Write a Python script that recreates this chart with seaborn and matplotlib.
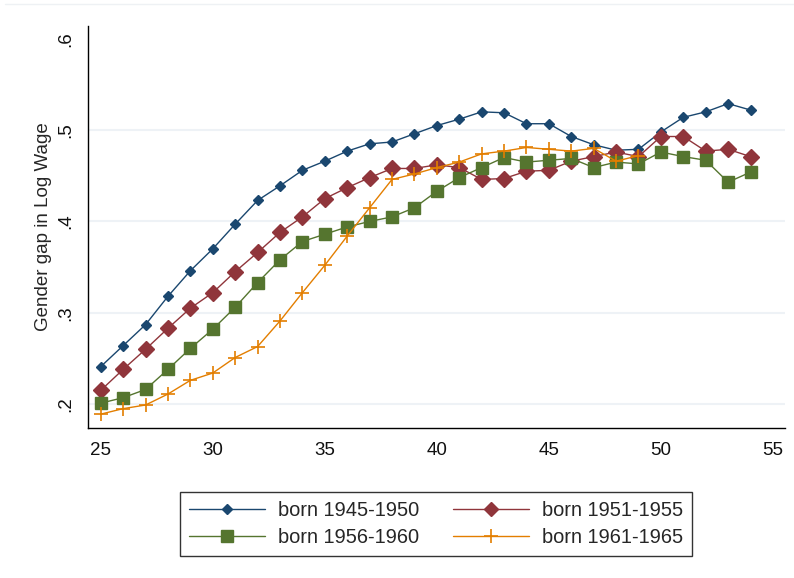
import matplotlib
matplotlib.use('Agg')
import matplotlib.pyplot as plt
from matplotlib.lines import Line2D
import seaborn as sns
import pandas as pd
import numpy as np

# Data
age = list(range(25, 55))
born_1945_1950 = [0.241, 0.264, 0.287, 0.318, 0.346, 0.370, 0.397, 0.423, 0.439, 0.456,
                  0.466, 0.477, 0.485, 0.487, 0.496, 0.505, 0.512, 0.520, 0.519, 0.507,
                  0.507, 0.493, 0.484, 0.478, 0.479, 0.498, 0.514, 0.520, 0.529, 0.522]
born_1951_1955 = [0.215, 0.238, 0.260, 0.283, 0.305, 0.322, 0.345, 0.366, 0.388, 0.405,
                  0.425, 0.437, 0.448, 0.458, 0.458, 0.462, 0.459, 0.446, 0.447, 0.455,
                  0.456, 0.466, 0.471, 0.476, 0.471, 0.493, 0.493, 0.477, 0.479, 0.471]
born_1956_1960 = [0.201, 0.207, 0.216, 0.238, 0.261, 0.282, 0.306, 0.333, 0.358, 0.378,
                  0.386, 0.394, 0.400, 0.405, 0.415, 0.433, 0.448, 0.459, 0.470, 0.465,
                  0.467, 0.469, 0.459, 0.465, 0.463, 0.476, 0.471, 0.467, 0.443, 0.454]
age_1961_1965 = list(range(25, 50))
born_1961_1965 = [0.189, 0.195, 0.199, 0.211, 0.226, 0.234, 0.251, 0.263, 0.291, 0.322,
                  0.352, 0.384, 0.415, 0.446, 0.452, 0.459, 0.465, 0.474, 0.477, 0.481,
                  0.479, 0.477, 0.480, 0.466, 0.472]

labels = ['born 1945-1950', 'born 1951-1955', 'born 1956-1960', 'born 1961-1965']
colors = ['#1a476f', '#90353b', '#55752f', '#e37e00']

sns.set_style('white')
plt.rcParams['font.family'] = ['Liberation Sans', 'DejaVu Sans']

fig = plt.figure(figsize=(7.94, 5.78), dpi=100)
ax = fig.add_axes([0.1108, 0.2595, 0.8779, 0.6955])

series = [
    (age, born_1945_1950, 'D', 5.5, 1.0),
    (age, born_1951_1955, 'D', 8, 1.0),
    (age, born_1956_1960, 's', 8.5, 1.0),
    (age_1961_1965, born_1961_1965, '+', 10, 1.2),
]
handles = []
for (x, y, mk, ms, mew), lab, col in zip(series, labels, colors):
    df = pd.DataFrame({'age': x, 'gap': y})
    sns.lineplot(data=df, x='age', y='gap', ax=ax, color=col, linewidth=1.0,
                 marker=mk, markersize=ms, markeredgewidth=mew,
                 markeredgecolor=col, markerfacecolor=col)
    handles.append(Line2D([], [], color=col, linewidth=1.0, marker=mk,
                          markersize=ms * 0.95, markeredgewidth=mew,
                          markeredgecolor=col, markerfacecolor=col, label=lab))

ax.set_xlim(24.43, 55.54)
ax.set_ylim(0.1738, 0.614)
ax.set_xticks(np.arange(25, 56, 5))
yt = [0.2, 0.3, 0.4, 0.5, 0.6]
ax.set_yticks(yt)
ax.set_yticklabels(['.2', '.3', '.4', '.5', '.6'], rotation=90, va='center')
ax.tick_params(axis='both', direction='out', length=5, width=1, color='black',
               labelsize=13.5, labelcolor='#111111', pad=5)
ax.set_xlabel('')
ax.set_ylabel('Gender gap in Log Wage', fontsize=13.5, labelpad=4)

for v in yt[:-1]:
    ax.axhline(v, color='#eef2f6', linewidth=1.5, zorder=0)

for s in ['top', 'right']:
    ax.spines[s].set_visible(False)
for s in ['left', 'bottom']:
    ax.spines[s].set_color('black')
    ax.spines[s].set_linewidth(1.0)

# row-major order like the reference: matplotlib fills columns first
order = [0, 2, 1, 3]
leg = fig.legend(handles=[handles[i] for i in order], loc='center',
                 bbox_to_anchor=(0.549, 0.0926), ncol=2, handlelength=3.8,
                 handletextpad=0.65, columnspacing=1.7, frameon=True,
                 fancybox=False, edgecolor='black', fontsize=14.4,
                 borderpad=0.45, labelspacing=0.4)
leg.get_frame().set_linewidth(1.0)

fig.add_artist(Line2D([0.006, 1.0], [0.993, 0.993], transform=fig.transFigure,
                      color='#eef1f4', linewidth=1.0))

fig.savefig('out.png', dpi=100)
